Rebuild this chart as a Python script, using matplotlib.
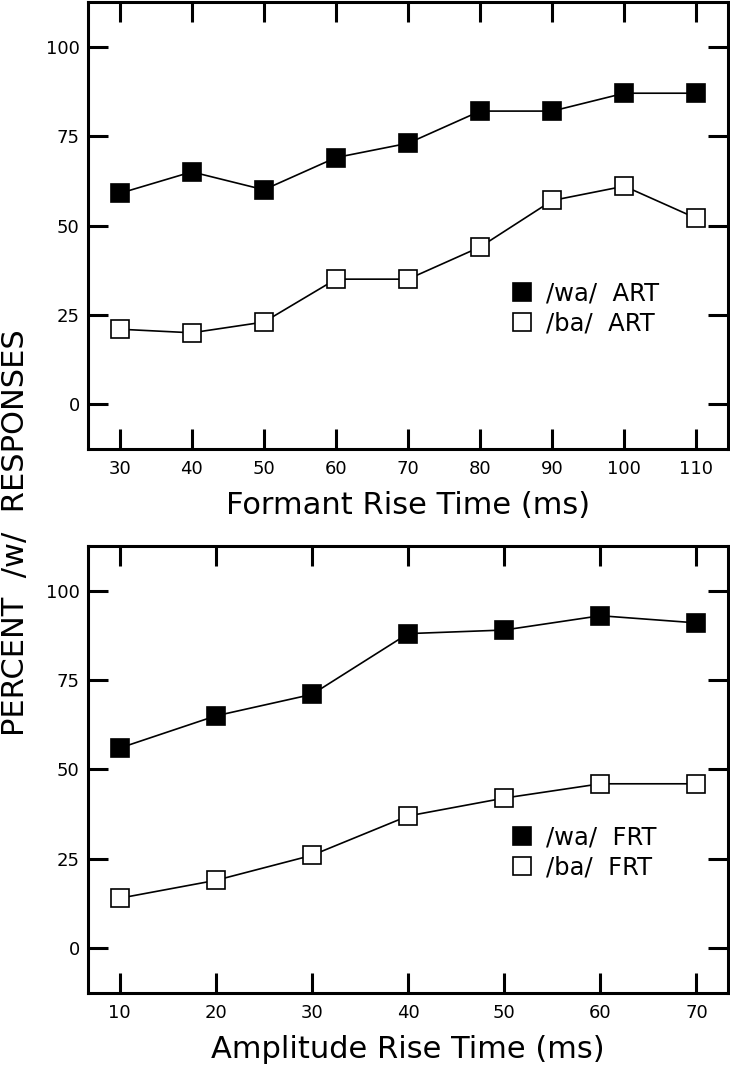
import numpy as np
import matplotlib.pyplot as plt
from matplotlib.lines import Line2D

plt.rcParams['font.family'] = ['DejaVu Sans']

# -------------------------------------------------
# Datos
# -------------------------------------------------

frt_ms = [30, 40, 50, 60, 70, 80, 90, 100, 110]
wa_art = [59, 65, 60, 69, 73, 82, 82, 87, 87]
ba_art = [21, 20, 23, 35, 35, 44, 57, 61, 52]

art_ms = [10, 20, 30, 40, 50, 60, 70]
wa_frt = [56, 65, 71, 88, 89, 93, 91]
ba_frt = [14, 19, 26, 37, 42, 46, 46]

y_ticks = [0, 25, 50, 75, 100]

# -------------------------------------------------
# Estilo
# -------------------------------------------------

lw_axis = 2.2
ms = 12.5
mew = 1.2


def style_axes(ax, xticks, xlabel):
    for s in ax.spines.values():
        s.set_linewidth(lw_axis)
    ax.set_xticks(xticks)
    ax.set_yticks(y_ticks)
    ax.tick_params(direction='in', length=14.5, width=2.2, top=True, right=True,
                   labelsize=13, pad=6)
    ax.tick_params(axis='x', pad=8)
    dx = (xticks[-1] - xticks[0]) * 0.055
    ax.set_xlim(xticks[0] - dx, xticks[-1] + dx)
    ax.set_ylim(-12.5, 112.5)
    ax.set_xlabel(xlabel, fontsize=22, labelpad=9)


def draw(ax, x, wa, ba, tag):
    ax.plot(x, wa, '-k', linewidth=1.2, marker='s', markersize=ms,
            markerfacecolor='k', markeredgecolor='k', markeredgewidth=mew)
    ax.plot(x, ba, '-k', linewidth=1.2, marker='s', markersize=ms,
            markerfacecolor='w', markeredgecolor='k', markeredgewidth=mew)
    handles = [
        Line2D([], [], linestyle='none', marker='s', markersize=ms,
               markerfacecolor='k', markeredgecolor='k', markeredgewidth=mew),
        Line2D([], [], linestyle='none', marker='s', markersize=ms,
               markerfacecolor='w', markeredgecolor='k', markeredgewidth=mew),
    ]
    ax.legend(handles, ['/wa/  ' + tag, '/ba/  ' + tag], loc='center left',
              bbox_to_anchor=(0.663, 0.314), frameon=False, fontsize=17.5,
              handlelength=0.75, handletextpad=0.65, labelspacing=0.22,
              borderpad=0, borderaxespad=0)


fig = plt.figure(figsize=(7.3, 10.66), dpi=100)
ax1 = fig.add_axes([0.1205, 0.5788, 0.877, 0.4193])
ax2 = fig.add_axes([0.1205, 0.0685, 0.877, 0.4193])

draw(ax1, frt_ms, wa_art, ba_art, 'ART')
draw(ax2, art_ms, wa_frt, ba_frt, 'FRT')

style_axes(ax1, frt_ms, 'Formant Rise Time (ms)')
style_axes(ax2, art_ms, 'Amplitude Rise Time (ms)')

fig.text(0.021, 0.5, 'PERCENT  /w/  RESPONSES', rotation=90, fontsize=22,
         ha='center', va='center')

fig.savefig('out.png', dpi=100)
